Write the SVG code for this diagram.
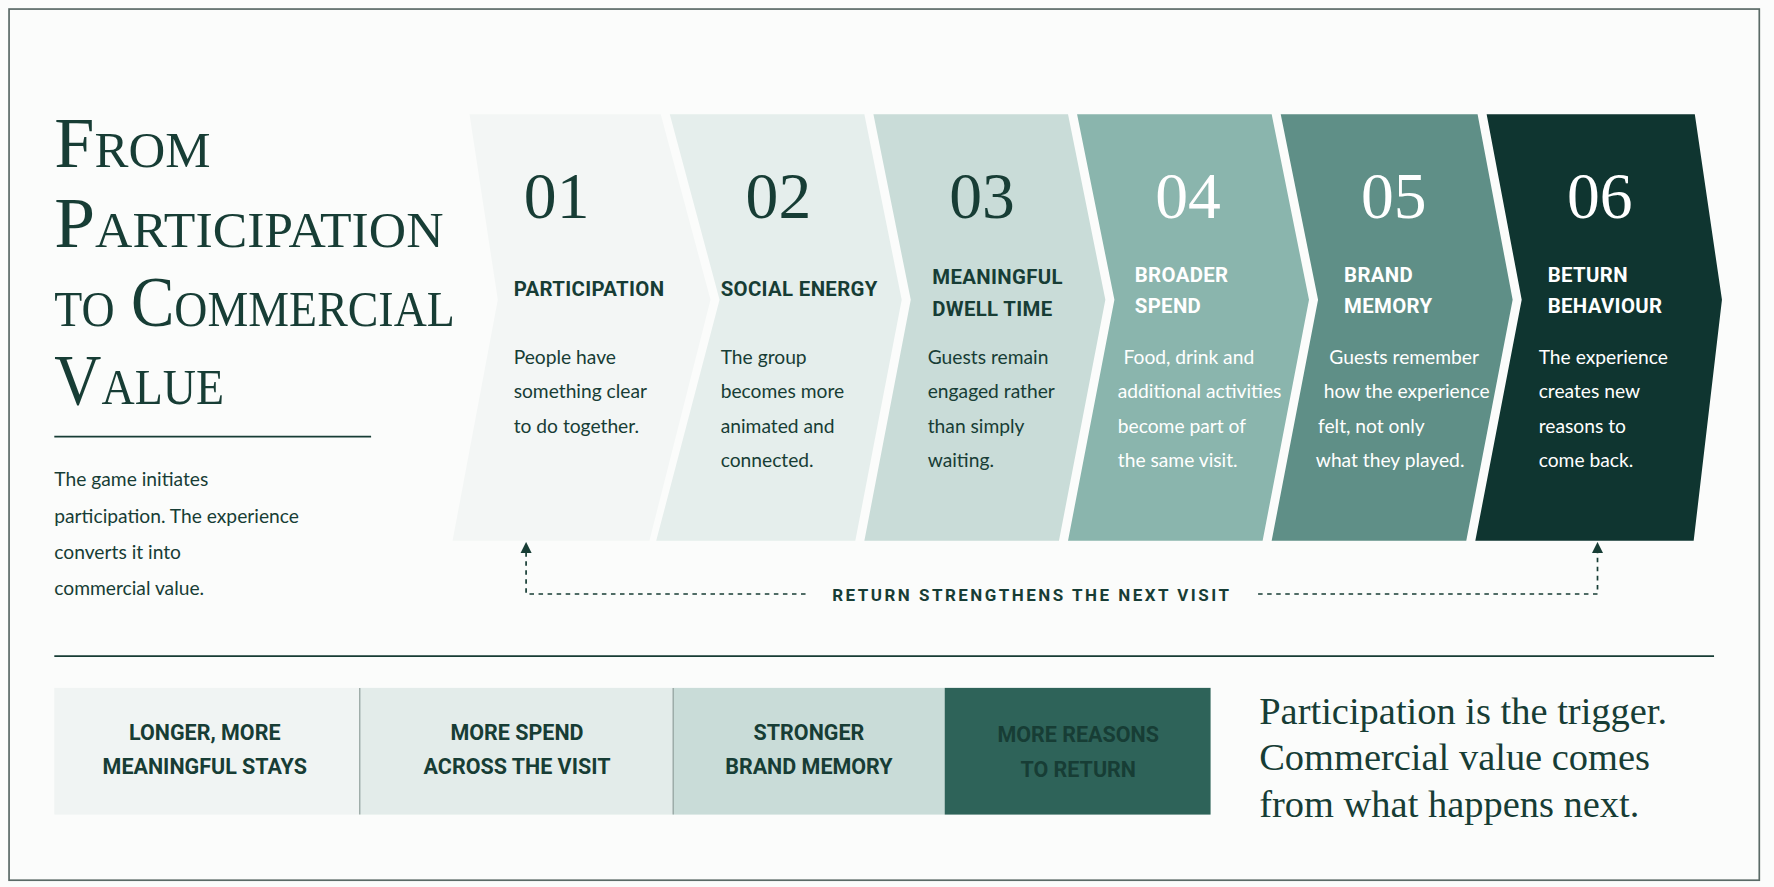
<svg xmlns="http://www.w3.org/2000/svg" width="1774" height="887" viewBox="0 0 1774 887">
<style>
.ttl{font-family:"Liberation Serif",serif;fill:#173d35;font-size:64px;font-variant:small-caps}
.num{font-family:"Liberation Serif",serif;font-size:58px;text-anchor:middle}
.hd{font-family:Roboto,"Liberation Sans",sans-serif;font-weight:bold;font-size:18px;fill:#173d35;letter-spacing:0.3px}
.bd{font-family:Lato,"Liberation Sans",sans-serif;font-size:17px;fill:#173d35}
.w{fill:#ffffff}
.d{fill:#173d35}
.bx{font-family:Roboto,"Liberation Sans",sans-serif;font-weight:bold;font-size:19px;text-anchor:middle;fill:#173d35}
.tag{font-family:"Liberation Serif",serif;font-size:34px;fill:#173d35}
</style>
<defs><marker id="ar" viewBox="0 0 10 10" refX="5" refY="5" markerWidth="10" markerHeight="10" orient="auto-start-reverse" markerUnits="userSpaceOnUse"><path d="M0,0 L10,5 L0,10 z" fill="#173d35"/></marker></defs>
<rect width="1774" height="887" fill="#fbfcfb"/>
<g transform="scale(1.13138)">
<rect x="8" y="8" width="1547" height="770" fill="none" stroke="#5a6a66" stroke-width="1.5"/>
<g id="title">
<text class="ttl" x="48" y="148" textLength="138" lengthAdjust="spacingAndGlyphs">From</text>
<text class="ttl" x="48" y="218" textLength="344" lengthAdjust="spacingAndGlyphs">Participation</text>
<text class="ttl" x="48" y="288" textLength="354" lengthAdjust="spacingAndGlyphs">to Commercial</text>
<text class="ttl" x="48" y="357" textLength="150" lengthAdjust="spacingAndGlyphs">Value</text>
<line x1="48" y1="386" x2="328" y2="386" stroke="#173d35" stroke-width="1.5"/>
<text class="bd" font-size="19" x="48" y="430">The game initiates</text>
<text class="bd" font-size="19" x="48" y="462">participation. The experience</text>
<text class="bd" font-size="19" x="48" y="494">converts it into</text>
<text class="bd" font-size="19" x="48" y="526">commercial value.</text>
</g>
<g id="step1">
<polygon points="415,101 584,101 628,265 574,478 400,478 440,265" fill="#f3f6f5"/>
<text class="num d" x="492" y="193">01</text>
<text class="hd" x="454" y="262">PARTICIPATION</text>
<text class="bd" x="454" y="322">People have</text><text class="bd" x="454" y="352">something clear</text><text class="bd" x="454" y="383">to do together.</text>
</g>
<g id="step2">
<polygon points="592,101 764,101 797,265 756,478 580,478 636,265" fill="#e5eeec"/>
<text class="num d" x="688" y="193">02</text>
<text class="hd" x="637" y="262">SOCIAL ENERGY</text>
<text class="bd" x="637" y="322">The group</text><text class="bd" x="637" y="352">becomes more</text><text class="bd" x="637" y="383">animated and</text><text class="bd" x="637" y="413">connected.</text>
</g>
<g id="step3">
<polygon points="772,101 944,101 977,265 936,478 764,478 805,265" fill="#c9dcd8"/>
<text class="num d" x="868" y="193">03</text>
<text class="hd" x="824" y="251">MEANINGFUL</text><text class="hd" x="824" y="279">DWELL TIME</text>
<text class="bd" x="820" y="322">Guests remain</text><text class="bd" x="820" y="352">engaged rather</text><text class="bd" x="820" y="383">than simply</text><text class="bd" x="820" y="413">waiting.</text>
</g>
<g id="step4">
<polygon points="952,101 1124,101 1157,265 1116,478 944,478 985,265" fill="#8ab5ad"/>
<text class="num w" x="1050" y="193">04</text>
<text class="hd w" x="1003" y="249">BROADER</text><text class="hd w" x="1003" y="277">SPEND</text>
<text class="bd w" x="993" y="322">Food, drink and</text><text class="bd w" x="988" y="352">additional activities</text><text class="bd w" x="988" y="383">become part of</text><text class="bd w" x="988" y="413">the same visit.</text>
</g>
<g id="step5">
<polygon points="1132,101 1306,101 1337,265 1296,478 1124,478 1165,265" fill="#5f8f87"/>
<text class="num w" x="1232" y="193">05</text>
<text class="hd w" x="1188" y="249">BRAND</text><text class="hd w" x="1188" y="277">MEMORY</text>
<text class="bd w" x="1175" y="322">Guests remember</text><text class="bd w" x="1170" y="352">how the experience</text><text class="bd w" x="1165" y="383">felt, not only</text><text class="bd w" x="1163" y="413">what they played.</text>
</g>
<g id="step6">
<polygon points="1314,101 1498,101 1522,265 1497,478 1304,478 1345,265" fill="#0f3530"/>
<text class="num w" x="1414" y="193">06</text>
<text class="hd w" x="1368" y="249">BETURN</text><text class="hd w" x="1368" y="277">BEHAVIOUR</text>
<text class="bd w" x="1360" y="322">The experience</text><text class="bd w" x="1360" y="352">creates new</text><text class="bd w" x="1360" y="383">reasons to</text><text class="bd w" x="1360" y="413">come back.</text>
</g>
<g id="connectors" fill="none" stroke="#173d35" stroke-width="1.5" stroke-dasharray="4 4">
<path d="M712,525 H465 V484" marker-end="url(#ar)"/>
<path d="M1112,525 H1412 V484" marker-end="url(#ar)"/>
</g>
<text x="912" y="531" text-anchor="middle" font-family="Roboto,'Liberation Sans',sans-serif" font-weight="bold" font-size="15" letter-spacing="2.2" fill="#173d35">RETURN STRENGTHENS THE NEXT VISIT</text>
<line x1="48" y1="580" x2="1515" y2="580" stroke="#173d35" stroke-width="1.5"/>
<g id="outcomes">
<rect x="48" y="608" width="270" height="112" fill="#f0f4f3"/>
<rect x="318" y="608" width="277" height="112" fill="#e3ecea"/>
<rect x="595" y="608" width="240" height="112" fill="#c9dcd8"/>
<rect x="835" y="608" width="235" height="112" fill="#2e6359"/>
<line x1="318" y1="608" x2="318" y2="720" stroke="#8a9a96"/>
<line x1="595" y1="608" x2="595" y2="720" stroke="#8a9a96"/>
<text class="bx" x="181" y="654">LONGER, MORE</text><text class="bx" x="181" y="684">MEANINGFUL STAYS</text>
<text class="bx" x="457" y="654">MORE SPEND</text><text class="bx" x="457" y="684">ACROSS THE VISIT</text>
<text class="bx" x="715" y="654">STRONGER</text><text class="bx" x="715" y="684">BRAND MEMORY</text>
<text class="bx w" x="953" y="656">MORE REASONS</text><text class="bx w" x="953" y="687">TO RETURN</text>
</g>
<g id="tagline">
<text class="tag" x="1113" y="640">Participation is the trigger.</text>
<text class="tag" x="1113" y="681">Commercial value comes</text>
<text class="tag" x="1113" y="722">from what happens next.</text>
</g>
</g>
</svg>
